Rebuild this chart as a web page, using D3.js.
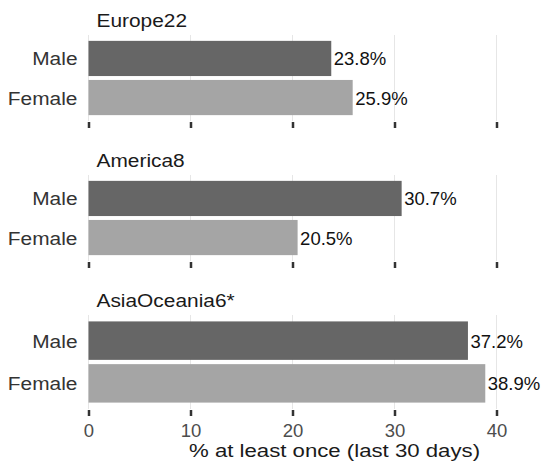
<!DOCTYPE html>
<html>
<head>
<meta charset="utf-8">
<script src="https://cdn.jsdelivr.net/npm/d3@7"></script>
<style>
  html, body { margin: 0; padding: 0; background: #ffffff; }
  svg { display: block; font-family: "Liberation Sans", Arial, sans-serif; }
</style>
</head>
<body>
<svg id="chart" width="541" height="461"></svg>
<script>
// ---- data ----
const regions = ["Europe22", "America8", "AsiaOceania6*"];
const sexes = ["Male", "Female"];
const maleValues = [23.8, 30.7, 37.2];
const femaleValues = [25.9, 20.5, 38.9];
const xTicks = [0, 10, 20, 30, 40];
const xTitle = "% at least once (last 30 days)";

// ---- layout ----
const svg = d3.select("#chart");
const panelLeft = 88.5, panelRight = 496.5;
const panels = [[35, 121], [175, 261], [315, 409]];
const colors = { Male: "#666666", Female: "#a5a5a5" };
const fontSize = 18.5;

const x = d3.scaleLinear().domain([0, 40]).range([panelLeft, panelRight]);

function stretchedText(g, txt, px, py, anchor, sx, fill) {
  return g.append("text")
    .attr("transform", `translate(${px},${py}) scale(${sx},1)`)
    .attr("text-anchor", anchor)
    .attr("font-size", fontSize)
    .attr("fill", fill)
    .text(txt);
}

regions.forEach((region, i) => {
  const [top, bottom] = panels[i];
  const g = svg.append("g");
  const y = d3.scaleBand().domain(sexes).range([top, bottom])
    .paddingInner(0.1).paddingOuter(0.15);
  const vals = { Male: maleValues[i], Female: femaleValues[i] };

  // gridlines
  g.selectAll("line.grid").data(xTicks).enter().append("line")
    .attr("x1", d => x(d)).attr("x2", d => x(d))
    .attr("y1", top).attr("y2", bottom)
    .attr("stroke", "#e6e6e6").attr("stroke-width", 1);

  // bars
  g.selectAll("rect.bar").data(sexes).enter().append("rect")
    .attr("x", x(0))
    .attr("y", d => y(d))
    .attr("width", d => x(vals[d]) - x(0))
    .attr("height", y.bandwidth())
    .attr("fill", d => colors[d]);

  // value labels
  g.selectAll("text.val").data(sexes).enter().append("text")
    .attr("x", d => x(vals[d]) + 2.5)
    .attr("y", d => y(d) + y.bandwidth() / 2 + 7)
    .attr("font-size", fontSize)
    .attr("fill", "#111111")
    .text(d => vals[d].toFixed(1) + "%");

  // category labels
  sexes.forEach(s => {
    stretchedText(g, s, panelLeft - 11, y(s) + y.bandwidth() / 2 + 7, "end", 1.13, "#333333");
  });

  // panel title
  stretchedText(g, region, panelLeft + 8, top - 8.5, "start", 1.13, "#1a1a1a");

  // axis ticks
  const axis = d3.axisBottom(x).tickValues(xTicks).tickSize(7).tickFormat(i === regions.length - 1 ? d3.format("d") : "");
  const ag = g.append("g").attr("transform", `translate(0,${bottom})`).call(axis);
  ag.select(".domain").remove();
  ag.selectAll(".tick line").attr("stroke", "#333333").attr("stroke-width", 2.5).attr("y1", 1);
  ag.selectAll(".tick text")
    .attr("font-size", fontSize)
    .attr("font-family", "'Liberation Sans', Arial, sans-serif")
    .attr("fill", "#4d4d4d")
    .attr("dy", null).attr("y", 28);
});

// x axis title
stretchedText(svg, xTitle, 334.5, 457, "middle", 1.2, "#1a1a1a");
</script>
</body>
</html>
